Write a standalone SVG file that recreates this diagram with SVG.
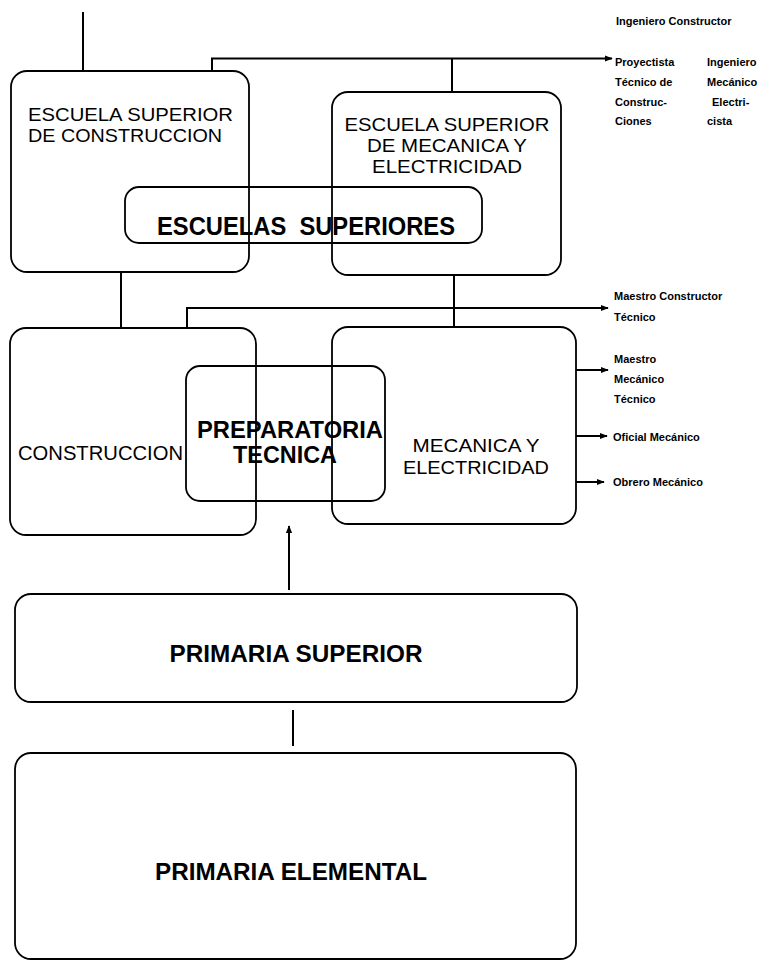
<svg xmlns="http://www.w3.org/2000/svg" width="768" height="962" viewBox="0 0 768 962">
<style>
.box{fill:none;stroke:#000;stroke-width:1.8}
.con{fill:none;stroke:#000;stroke-width:2}
.reg{font-family:"Liberation Sans",Arial,sans-serif;font-weight:normal;fill:#000}
.bld{font-family:"Liberation Sans",Arial,sans-serif;font-weight:bold;fill:#000}
.sm{font-family:"Liberation Sans",Arial,sans-serif;font-weight:bold;font-size:11px;fill:#000}
</style>
<defs>
<marker id="ah" viewBox="0 0 10 10" refX="9" refY="5" markerWidth="4" markerHeight="4" orient="auto" markerUnits="strokeWidth">
<path d="M0,1 L10,5 L0,9 z" fill="#000"/>
</marker>
</defs>
<rect width="768" height="962" fill="#fff"/>

<g id="connectors">
<line class="con" x1="83" y1="12" x2="83" y2="71"/>
<polyline class="con" points="212,71 212,58.5 612,58.5" marker-end="url(#ah)"/>
<line class="con" x1="452" y1="58.5" x2="452" y2="92"/>
<line class="con" x1="121" y1="272" x2="121" y2="328"/>
<line class="con" x1="454" y1="275" x2="454" y2="327"/>
<polyline class="con" points="187,328 187,308 608,308" marker-end="url(#ah)"/>
<line class="con" x1="576" y1="370" x2="608" y2="370" marker-end="url(#ah)"/>
<line class="con" x1="576" y1="436" x2="607" y2="436" marker-end="url(#ah)"/>
<line class="con" x1="576" y1="482" x2="604" y2="482" marker-end="url(#ah)"/>
<line class="con" x1="289" y1="590" x2="289" y2="526" marker-end="url(#ah)"/>
<line class="con" x1="293" y1="710" x2="293" y2="746"/>
</g>

<g id="escuela-construccion">
<rect class="box" x="11" y="71" width="238" height="201" rx="16"/>
<text class="reg" font-size="18" x="28" y="121" textLength="205" lengthAdjust="spacingAndGlyphs">ESCUELA SUPERIOR</text>
<text class="reg" font-size="18" x="28" y="142" textLength="194" lengthAdjust="spacingAndGlyphs">DE CONSTRUCCION</text>
</g>

<g id="escuela-mecanica">
<rect class="box" x="332" y="92" width="229" height="183" rx="16"/>
<text class="reg" font-size="18" x="447" y="131" text-anchor="middle" textLength="205" lengthAdjust="spacingAndGlyphs">ESCUELA SUPERIOR</text>
<text class="reg" font-size="18" x="447" y="152" text-anchor="middle" textLength="160" lengthAdjust="spacingAndGlyphs">DE MECANICA Y</text>
<text class="reg" font-size="18" x="447" y="173" text-anchor="middle" textLength="150" lengthAdjust="spacingAndGlyphs">ELECTRICIDAD</text>
</g>

<g id="escuelas-superiores">
<rect class="box" x="125" y="187" width="357" height="56" rx="14"/>
<text class="bld" font-size="26" x="157" y="235" textLength="298" lengthAdjust="spacingAndGlyphs" xml:space="preserve">ESCUELAS  SUPERIORES</text>
</g>

<g id="construccion">
<rect class="box" x="10" y="328" width="246" height="207" rx="16"/>
<text class="reg" font-size="20" x="18" y="460" textLength="165" lengthAdjust="spacingAndGlyphs">CONSTRUCCION</text>
</g>

<g id="preparatoria">
<rect class="box" x="186" y="366" width="199" height="135" rx="14"/>
<text class="bld" font-size="24" x="290" y="438" text-anchor="middle" textLength="186" lengthAdjust="spacingAndGlyphs">PREPARATORIA</text>
<text class="bld" font-size="24" x="285" y="463" text-anchor="middle" textLength="104" lengthAdjust="spacingAndGlyphs">TECNICA</text>
</g>

<g id="mecanica">
<rect class="box" x="332" y="327" width="244" height="197" rx="16"/>
<text class="reg" font-size="19" x="476" y="452" text-anchor="middle" textLength="127" lengthAdjust="spacingAndGlyphs">MECANICA Y</text>
<text class="reg" font-size="19" x="476" y="474" text-anchor="middle" textLength="146" lengthAdjust="spacingAndGlyphs">ELECTRICIDAD</text>
</g>

<g id="primaria-superior">
<rect class="box" x="15" y="594" width="562" height="108" rx="16"/>
<text class="bld" font-size="24" x="296" y="662" text-anchor="middle" textLength="253" lengthAdjust="spacingAndGlyphs">PRIMARIA SUPERIOR</text>
</g>

<g id="primaria-elemental">
<rect class="box" x="15" y="753" width="561" height="206" rx="16"/>
<text class="bld" font-size="24" x="291" y="880" text-anchor="middle" textLength="272" lengthAdjust="spacingAndGlyphs">PRIMARIA ELEMENTAL</text>
</g>

<g id="out-ingeniero-constructor">
<text class="sm" x="616" y="25">Ingeniero Constructor</text>
</g>

<g id="out-proyectista">
<text class="sm" x="615" y="66">Proyectista</text>
<text class="sm" x="615" y="86">Técnico de</text>
<text class="sm" x="615" y="106">Construc-</text>
<text class="sm" x="615" y="125">Ciones</text>
</g>

<g id="out-ingeniero-mecanico">
<text class="sm" x="707" y="66">Ingeniero</text>
<text class="sm" x="707" y="86">Mecánico</text>
<text class="sm" x="712" y="106">Electri-</text>
<text class="sm" x="707" y="125">cista</text>
</g>

<g id="out-maestro-constructor">
<text class="sm" x="614" y="300">Maestro Constructor</text>
<text class="sm" x="614" y="321">Técnico</text>
</g>

<g id="out-maestro-mecanico">
<text class="sm" x="614" y="363">Maestro</text>
<text class="sm" x="614" y="383">Mecánico</text>
<text class="sm" x="614" y="403">Técnico</text>
</g>

<g id="out-oficial">
<text class="sm" x="613" y="441">Oficial Mecánico</text>
</g>

<g id="out-obrero">
<text class="sm" x="613" y="486">Obrero Mecánico</text>
</g>
</svg>
